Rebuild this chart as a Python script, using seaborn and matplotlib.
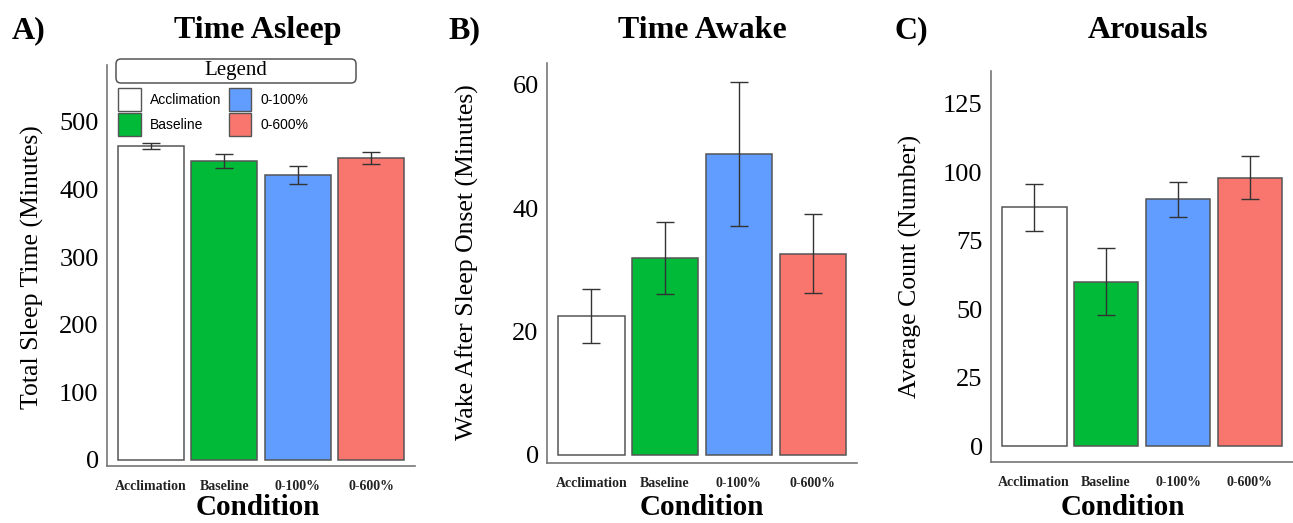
import numpy as np
import pandas as pd
import matplotlib
matplotlib.use("Agg")
import matplotlib.pyplot as plt
import seaborn as sns
from matplotlib.patches import Patch, FancyBboxPatch

# ---------------- data ----------------
conditions = ["Acclimation", "Baseline", "0-100%", "0-600%"]
colors = ["#FFFFFF", "#00BA38", "#619CFF", "#F8766D"]

sleep_mean = [464, 442, 421.5, 446]
sleep_sem = [4.5, 10, 13, 8.7]

waso_mean = [22.5, 31.9, 48.8, 32.6]
waso_sem = [4.4, 5.85, 11.7, 6.4]

arousal_mean = [87.2, 60.1, 90.1, 98.1]
arousal_sem = [8.7, 12.3, 6.25, 7.8]

yticks_a = [0, 100, 200, 300, 400, 500]
yticks_b = [0, 20, 40, 60]
yticks_c = [0, 25, 50, 75, 100, 125]

titles = ["Time Asleep", "Time Awake", "Arousals"]
letters = ["A)", "B)", "C)"]
ylabels = ["Total Sleep Time (Minutes)", "Wake After Sleep Onset (Minutes)",
           "Average Count (Number)"]
xlabel = "Condition"

# ---------------- style ----------------
sns.set_style("white")
plt.rcParams["font.family"] = ["Liberation Serif", "DejaVu Serif"]
plt.rcParams["text.color"] = "black"
plt.rcParams["axes.labelcolor"] = "black"

W, H = 1293, 523
fig = plt.figure(figsize=(W / 100, H / 100), dpi=100)

def fx(px):
    return px / W

def fy(py):
    return 1 - py / H

panels = [
    dict(rect=(107, 65, 415, 466), mean=sleep_mean, sem=sleep_sem, yt=yticks_a,
         ylim=(-9, 584), title_x=258, letter_x=12, ylab_x=32, ylab_y=267, xlab_x=258),
    dict(rect=(547, 63, 857, 463), mean=waso_mean, sem=waso_sem, yt=yticks_b,
         ylim=(-1.3, 63.5), title_x=702, letter_x=448, ylab_x=467, ylab_y=262, xlab_x=702),
    dict(rect=(991, 71, 1293, 462), mean=arousal_mean, sem=arousal_sem, yt=yticks_c,
         ylim=(-5.8, 137), title_x=1148, letter_x=895, ylab_x=910, ylab_y=266, xlab_x=1123),
]

axes = []
for i, p in enumerate(panels):
    x0, y0, x1, y1 = p["rect"]
    ax = fig.add_axes([fx(x0), fy(y1), (x1 - x0) / W, (y1 - y0) / H])
    axes.append(ax)
    df = pd.DataFrame({"Condition": conditions, "value": p["mean"]})
    sns.barplot(data=df, x="Condition", y="value", hue="Condition",
                order=conditions, hue_order=conditions, palette=colors,
                saturation=1, edgecolor="#555555", linewidth=1.1, width=0.9,
                errorbar=None, legend=False, ax=ax)
    ax.errorbar(np.arange(len(conditions)), p["mean"], yerr=p["sem"], fmt="none",
                ecolor="#333333", elinewidth=1, capsize=6.5, capthick=1, zorder=5)
    ax.set_xlim(-0.6, 3.6)
    ax.set_ylim(*p["ylim"])
    ax.set_yticks(p["yt"])
    ax.set_yticklabels([str(v) for v in p["yt"]])
    ax.set_xlabel("")
    ax.set_ylabel("")
    for s in ["top", "right"]:
        ax.spines[s].set_visible(False)
    for s in ["left", "bottom"]:
        ax.spines[s].set_color("#777777")
        ax.spines[s].set_linewidth(1.2)
    ax.tick_params(axis="both", color="#777777", length=4, width=1, direction="out")
    ax.tick_params(axis="y", labelsize=19, labelcolor="black", pad=2)
    ax.tick_params(axis="x", labelsize=10, labelcolor="#222222", pad=6)
    for lab in ax.get_xticklabels():
        lab.set_fontweight("bold")
    ax.set_facecolor("white")

    fig.text(fx(p["title_x"]), fy(38), titles[i], ha="center", va="baseline",
             fontsize=23, fontweight="bold", color="black")
    fig.text(fx(p["letter_x"]), fy(38), letters[i], ha="left", va="baseline",
             fontsize=23, fontweight="bold", color="black")
    fig.text(fx(p["ylab_x"]), fy(p["ylab_y"]), ylabels[i], ha="center", va="center",
             rotation=90, fontsize=18.5, color="black")
    fig.text(fx(p["xlab_x"]), fy(494), xlabel, ha="center", va="top",
             fontsize=21, fontweight="bold", color="black")

# ---------------- legend (panel A) ----------------
box = FancyBboxPatch((1.16, (H - 83) / 100), 2.40, 0.24,
                     boxstyle="round,pad=0,rounding_size=0.05",
                     transform=fig.dpi_scale_trans, facecolor="white",
                     edgecolor="#555555", linewidth=1.1, zorder=10)
fig.add_artist(box)
fig.text(fx(236), fy(71), "Legend", ha="center", va="center", fontsize=15,
         color="black", zorder=11)

handles = [Patch(facecolor=c, edgecolor="#555555", linewidth=1) for c in colors]
leg = axes[0].legend(handles, conditions, ncol=2, loc="upper left",
                     bbox_to_anchor=(fx(118), fy(88)), bbox_transform=fig.transFigure,
                     frameon=False, borderpad=0, borderaxespad=0,
                     handlelength=1.62, handleheight=2.18, handletextpad=0.65,
                     labelspacing=0.14, columnspacing=0.55,
                     prop={"family": "Liberation Sans", "size": 10})
for t in leg.get_texts():
    t.set_color("black")

fig.savefig("out.png", dpi=100, facecolor="white")
